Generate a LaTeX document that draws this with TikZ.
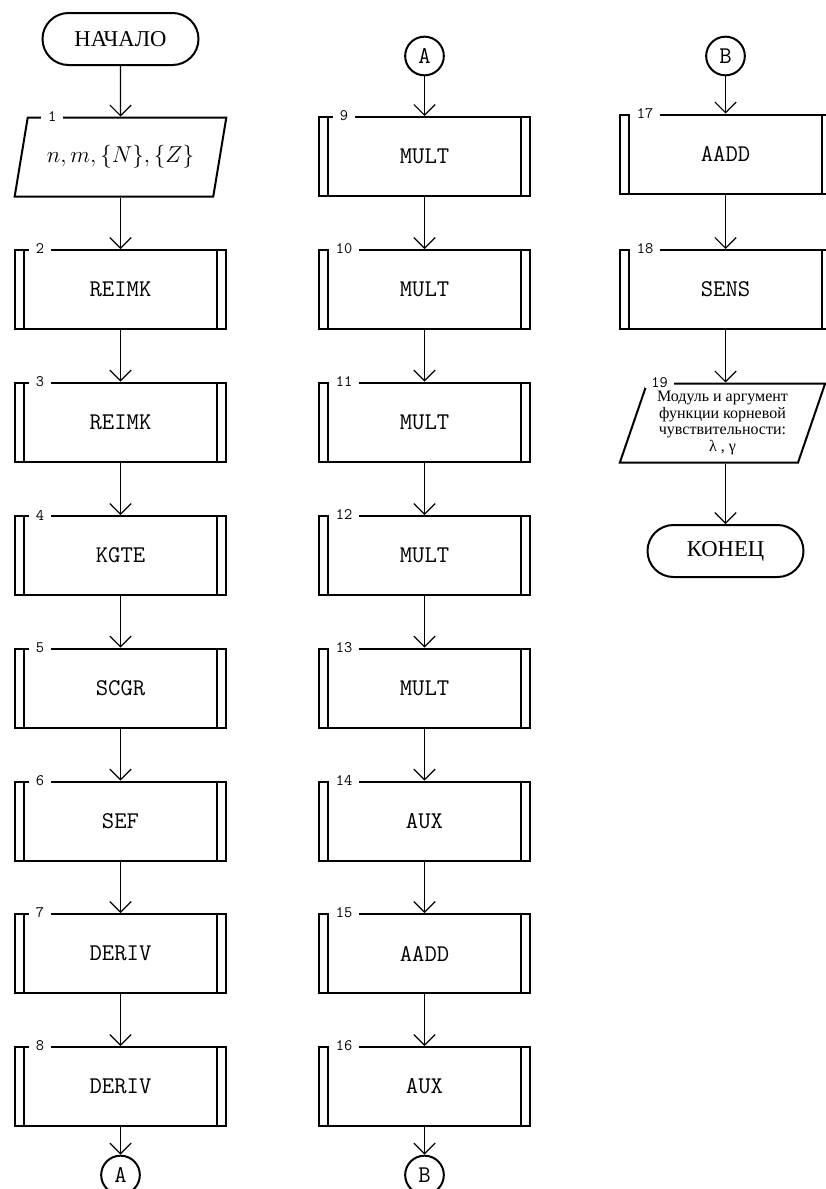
\documentclass[tikz,border=0pt]{standalone}
\usepackage{fontspec}
\newfontfamily\cyrfont{Liberation Serif}
\usetikzlibrary{shapes.geometric,arrows.meta}

\begin{document}
\begin{tikzpicture}[x=0.75pt,y=-0.75pt,
  font=\ttfamily\fontsize{18}{21}\selectfont,
  proc/.style={draw,line width=1.5pt,minimum width=158.25pt,minimum height=59.25pt,
    path picture={\draw[line width=1.5pt]
      ([xshift=6.75pt]path picture bounding box.north west) -- ([xshift=6.75pt]path picture bounding box.south west)
      ([xshift=-6.75pt]path picture bounding box.north east) -- ([xshift=-6.75pt]path picture bounding box.south east);}},
  io/.style={draw,line width=1.5pt,trapezium,trapezium left angle=71,trapezium right angle=109,
    trapezium stretches=true,minimum width=159pt,minimum height=59.25pt},
  term/.style={draw,line width=1.5pt,rounded corners=19.5pt,minimum width=117pt,minimum height=39pt,
    font=\cyrfont\fontsize{17}{20}\selectfont},
  link/.style={draw,circle,line width=1.5pt,minimum size=29pt,inner sep=0pt},
  tag/.style={fill=white,inner xsep=5pt,inner ysep=0pt,font=\ttfamily\fontsize{12}{14}\selectfont},
  arr/.style={line width=0.9pt,-{Straight Barb[length=8pt,width=16pt]}}]
\useasboundingbox (0,0) rectangle (825,1189);

% first column
\node[term] (start) at (120.5,39) {НАЧАЛО};
\node[io] (n1) at (120.5,157) {\fontsize{16.5}{20}\selectfont $n, m, \{N\}, \{Z\}$};
\node[tag] (l1) at ([xshift=19pt]n1.top left corner) {1};
\node[proc] (b2) at (120.5,289.5) {REIMK};
\node[tag] (l2) at ([xshift=19.5pt]b2.north west) {2};
\node[proc] (b3) at (120.5,422) {REIMK};
\node[tag] (l3) at ([xshift=19.5pt]b3.north west) {3};
\node[proc] (b4) at (120.5,555.5) {KGTE};
\node[tag] (l4) at ([xshift=19.5pt]b4.north west) {4};
\node[proc] (b5) at (120.5,688) {SCGR};
\node[tag] (l5) at ([xshift=19.5pt]b5.north west) {5};
\node[proc] (b6) at (120.5,821) {SEF};
\node[tag] (l6) at ([xshift=19.5pt]b6.north west) {6};
\node[proc] (b7) at (120.5,953.5) {DERIV};
\node[tag] (l7) at ([xshift=19.5pt]b7.north west) {7};
\node[proc] (b8) at (120.5,1086.5) {DERIV};
\node[tag] (l8) at ([xshift=19.5pt]b8.north west) {8};
\node[link] (ca1) at (120.5,1175) {A};

\draw[arr] (start) -- (n1);
\draw[arr] (n1) -- (b2);
\draw[arr] (b2) -- (b3);
\draw[arr] (b3) -- (b4);
\draw[arr] (b4) -- (b5);
\draw[arr] (b5) -- (b6);
\draw[arr] (b6) -- (b7);
\draw[arr] (b7) -- (b8);
\draw[arr] (b8) -- (ca1);

% second column
\node[link] (ca2) at (424.5,56) {A};
\node[proc] (b9) at (424.5,156.5) {MULT};
\node[tag] (l9) at ([xshift=19.5pt]b9.north west) {9};
\node[proc] (b10) at (424.5,289.5) {MULT};
\node[tag] (l10) at ([xshift=19.5pt]b10.north west) {10};
\node[proc] (b11) at (424.5,422) {MULT};
\node[tag] (l11) at ([xshift=19.5pt]b11.north west) {11};
\node[proc] (b12) at (424.5,555.5) {MULT};
\node[tag] (l12) at ([xshift=19.5pt]b12.north west) {12};
\node[proc] (b13) at (424.5,688) {MULT};
\node[tag] (l13) at ([xshift=19.5pt]b13.north west) {13};
\node[proc] (b14) at (424.5,821) {AUX};
\node[tag] (l14) at ([xshift=19.5pt]b14.north west) {14};
\node[proc] (b15) at (424.5,953.5) {AADD};
\node[tag] (l15) at ([xshift=19.5pt]b15.north west) {15};
\node[proc] (b16) at (424.5,1086.5) {AUX};
\node[tag] (l16) at ([xshift=19.5pt]b16.north west) {16};
\node[link] (cb1) at (424.5,1175) {B};

\draw[arr] (ca2) -- (b9);
\draw[arr] (b9) -- (b10);
\draw[arr] (b10) -- (b11);
\draw[arr] (b11) -- (b12);
\draw[arr] (b12) -- (b13);
\draw[arr] (b13) -- (b14);
\draw[arr] (b14) -- (b15);
\draw[arr] (b15) -- (b16);
\draw[arr] (b16) -- (cb1);

% third column
\node[link] (cb2) at (725.5,56) {B};
\node[proc] (b17) at (725.5,154) {AADD};
\node[tag] (l17) at ([xshift=19.5pt]b17.north west) {17};
\node[proc] (b18) at (725.5,289.5) {SENS};
\node[tag] (l18) at ([xshift=19.5pt]b18.north west) {18};
\node[io,minimum width=154pt,align=center,font=\cyrfont\fontsize{12}{12.5}\selectfont] (n19) at (722.5,423)
  {Модуль и аргумент\\функции корневой\\чувствительности:\\λ , γ};
\node[tag] (l19) at ([xshift=10pt]n19.top left corner) {19};
\node[term] (stop) at (725.5,551) {КОНЕЦ};

\draw[arr] (cb2) -- (b17);
\draw[arr] (b17) -- (b18);
\draw[arr] (b18) -- (b18 |- n19.north);
\draw[arr] (n19.south -| stop) -- (stop);
\end{tikzpicture}
\end{document}
